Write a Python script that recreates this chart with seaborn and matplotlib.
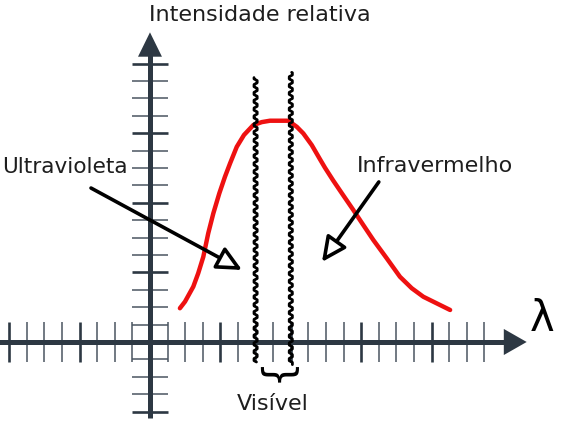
import numpy as np
import pandas as pd
import matplotlib
matplotlib.use("Agg")
import matplotlib.pyplot as plt
import seaborn as sns

# ---- data ----
curve_x = [1.70, 1.99, 2.46, 2.74, 3.03, 3.31, 3.60, 3.94, 4.26, 4.55, 4.93,
           5.34, 5.87, 6.35, 6.82, 7.39, 7.86, 8.34, 8.71, 9.19, 9.66, 9.94,
           10.41, 10.98, 11.55, 12.12, 12.69, 13.45, 14.20, 14.87, 15.53,
           16.29, 17.05]
curve_y = [1.94, 2.32, 3.18, 3.95, 4.90, 6.25, 7.40, 8.55, 9.50, 10.27, 11.22,
           11.90, 12.47, 12.64, 12.72, 12.72, 12.72, 12.37, 11.99, 11.32, 10.50,
           10.02, 9.28, 8.43, 7.59, 6.72, 5.86, 4.81, 3.75, 3.09, 2.60,
           2.22, 1.84]
x_ticks = [t for t in range(-8, 20) if t != 0]
y_ticks = [t for t in range(-4, 17) if t != 0]
visible_edges = [6.0, 8.0]
visible_top = [15.2, 15.5]
visible_bottom = [-1.15, -1.3]
title_text = "Intensidade relativa"
axis_label = "λ"
uv_label = "Ultravioleta"
ir_label = "Infravermelho"
vis_label = "Visível"

sns.set_theme(style="white")
plt.rcParams['font.family'] = ['DejaVu Sans']

fig = plt.figure(figsize=(5.67, 4.22), dpi=100)
ax = fig.add_axes([0, 0, 1, 1])

axc = "#2d3843"
tickc = "#4a5560"

# ticks
for t in x_ticks:
    major = (t % 4 == 0)
    ax.vlines(t, -1.15, 1.15, color=axc if major else tickc,
              lw=1.9 if major else 1.1, zorder=2)
for t in y_ticks:
    major = (t % 4 == 0)
    ax.hlines(t, -1.02, 1.02, color=axc if major else tickc,
              lw=1.9 if major else 1.1, zorder=2)

# axes with arrows
ax.plot([-8.6, 20.2], [0, 0], color=axc, lw=3.6, solid_capstyle="butt", zorder=3)
ax.fill([20.1, 21.4, 20.1], [-0.75, 0, 0.75], color=axc, zorder=3, lw=0)
ax.plot([0, 0], [-4.35, 16.5], color=axc, lw=3.6, solid_capstyle="butt", zorder=3)
ax.fill([-0.68, 0, 0.68], [16.4, 17.8, 16.4], color=axc, zorder=3, lw=0)

# red curve
df = pd.DataFrame({"x": curve_x, "y": curve_y})
sns.lineplot(data=df, x="x", y="y", sort=False, color="#ee1111", lw=3.2,
             ax=ax, zorder=4)
ax.lines[-1].set_solid_joinstyle("round")
ax.lines[-1].set_solid_capstyle("round")

# wavy "visible" boundaries
for xe, top, bot in zip(visible_edges, visible_top, visible_bottom):
    yy = np.linspace(bot, top, 1500)
    xx = xe + 0.09 * np.clip(1.6 * np.sin(yy / 0.45 * 2 * np.pi), -1, 1)
    ax.plot(xx, yy, color="black", lw=2.0, zorder=5)

# arrows
ap = dict(arrowstyle="-|>,head_length=0.75,head_width=0.36", lw=2.6,
          ec="black", fc="white", shrinkA=0, shrinkB=0, mutation_scale=20)
ax.annotate("", xy=(5.23, 4.14), xytext=(-3.35, 8.85), arrowprops=ap, zorder=6)
ax.annotate("", xy=(9.77, 4.6), xytext=(13.0, 9.2), arrowprops=ap, zorder=6)

# texts
tc = "#1e1e1e"
ax.text(6.25, 18.78, title_text, ha="center", va="center", fontsize=16, color=tc)
ax.text(-1.25, 10.06, uv_label, ha="right", va="center", fontsize=15.6, color=tc)
ax.text(11.76, 10.1, ir_label, ha="left", va="center", fontsize=16, color=tc)
ax.text(7.0, -3.55, vis_label, ha="center", va="center", fontsize=16, color=tc)
ax.text(7.0, -2.1, "}", ha="center", va="center", fontsize=29, rotation=-90,
        color="black")
ax.text(22.25, 1.3, axis_label, ha="center", va="center", fontsize=30, color="black")

ax.set_xlim(-8.52, 23.69)
ax.set_ylim(-4.6, 19.66)
ax.axis("off")

fig.savefig("out.png", dpi=100)
